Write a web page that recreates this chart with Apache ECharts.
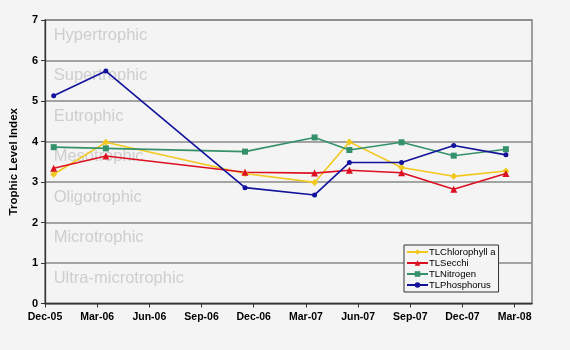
<!DOCTYPE html>
<html>
<head>
<meta charset="utf-8">
<script src="https://cdn.jsdelivr.net/npm/echarts@6/dist/echarts.min.js"></script>
<style>
  html, body { margin: 0; padding: 0; background: #f4f4f4; }
  #chart { width: 570px; height: 350px; }
</style>
</head>
<body>
<div id="chart"></div>
<script>
// Quarterly tick labels along the time axis (months counted from 1 Dec 2005)
const tickLabels = ['Dec-05', 'Mar-06', 'Jun-06', 'Sep-06', 'Dec-06', 'Mar-07', 'Jun-07', 'Sep-07', 'Dec-07', 'Mar-08'];

// Sampling dates, in months since 1 Dec 2005
const sampleMonths = [0.5, 3.5, 11.5, 15.5, 17.5, 20.5, 23.5, 26.5];

// Trophic Level Index per variable
const tlChlorophyll = [3.19, 3.98, 3.21, 2.99, 3.99, 3.36, 3.14, 3.27];
const tlSecchi      = [3.34, 3.64, 3.24, 3.22, 3.29, 3.23, 2.82, 3.21];
const tlNitrogen    = [3.86, 3.83, 3.75, 4.10, 3.79, 3.98, 3.65, 3.81];
const tlPhosphorus  = [5.13, 5.74, 2.86, 2.68, 3.48, 3.48, 3.90, 3.67];

// Trophic state bands, one per unit of the index
const bandNames = ['Ultra-microtrophic', 'Microtrophic', 'Oligotrophic', 'Mesotrophic', 'Eutrophic', 'Supertrophic', 'Hypertrophic'];

const pair = vals => sampleMonths.map((m, i) => [m, vals[i]]);

const FONT = 'Liberation Sans, Arial, sans-serif';

const chart = echarts.init(document.getElementById('chart'));

const lineSeries = (name, vals, color, symbol, size) => ({
  name, type: 'line', data: pair(vals), z: 5,
  symbol, symbolSize: size,
  lineStyle: { color, width: 1.6 },
  itemStyle: { color },
  emphasis: { disabled: true }
});

chart.setOption({
  animation: false,
  backgroundColor: '#f4f4f4',
  grid: { left: 41, right: 38, top: 20, bottom: 46.5, show: true, borderColor: '#888', borderWidth: 1.6, backgroundColor: 'transparent' },
  xAxis: {
    type: 'value', min: 0, max: 28, interval: 3,
    axisLine: { show: true, onZero: false, lineStyle: { color: '#333', width: 1.3 } },
    axisTick: { show: true, length: 4, lineStyle: { color: '#333' } },
    splitLine: { show: false },
    axisLabel: {
      showMaxLabel: false, margin: 8,
      fontFamily: FONT, fontSize: 10.5, fontWeight: 'bold', color: '#000',
      formatter: v => tickLabels[v / 3] || ''
    }
  },
  yAxis: {
    type: 'value', min: 0, max: 7, interval: 1,
    name: 'Trophic Level Index', nameLocation: 'middle', nameGap: 25,
    nameTextStyle: { fontFamily: FONT, fontSize: 11.5, fontWeight: 'bold', color: '#000' },
    axisLine: { show: true, lineStyle: { color: '#333', width: 1.3 } },
    axisTick: { show: true, length: 4, lineStyle: { color: '#333' } },
    splitLine: { show: true, lineStyle: { color: '#888', width: 1.6 } },
    axisLabel: { margin: 7, fontFamily: FONT, fontSize: 11, fontWeight: 'bold', color: '#000' }
  },
  legend: {
    orient: 'vertical', left: 404, top: 245,
    backgroundColor: '#f4f4f4', borderColor: '#333', borderWidth: 1,
    padding: [2, 3, 2, 2], itemGap: 1, itemWidth: 21, itemHeight: 7,
    textStyle: { fontFamily: FONT, fontSize: 9.5, color: '#000', padding: [0, 0, 0, -4] },
    data: ['TLChlorophyll a', 'TLSecchi', 'TLNitrogen', 'TLPhosphorus']
  },
  series: [
    {
      // Band names drawn in the data space at each band's level
      name: 'bands', type: 'scatter', z: 1, symbolSize: 0, silent: true,
      data: bandNames.map((n, i) => ({ value: [0.5, i + 0.62], name: n })),
      label: {
        show: true, position: 'right', distance: 0,
        formatter: p => p.name,
        fontFamily: FONT, fontSize: 16.5, color: '#c4c4c4'
      }
    },
    lineSeries('TLChlorophyll a', tlChlorophyll, '#f2c81e', 'diamond', 7),
    lineSeries('TLSecchi', tlSecchi, '#dc1020', 'triangle', 7),
    lineSeries('TLNitrogen', tlNitrogen, '#34916a', 'rect', 6),
    lineSeries('TLPhosphorus', tlPhosphorus, '#12129a', 'circle', 5)
  ]
});
</script>
</body>
</html>
